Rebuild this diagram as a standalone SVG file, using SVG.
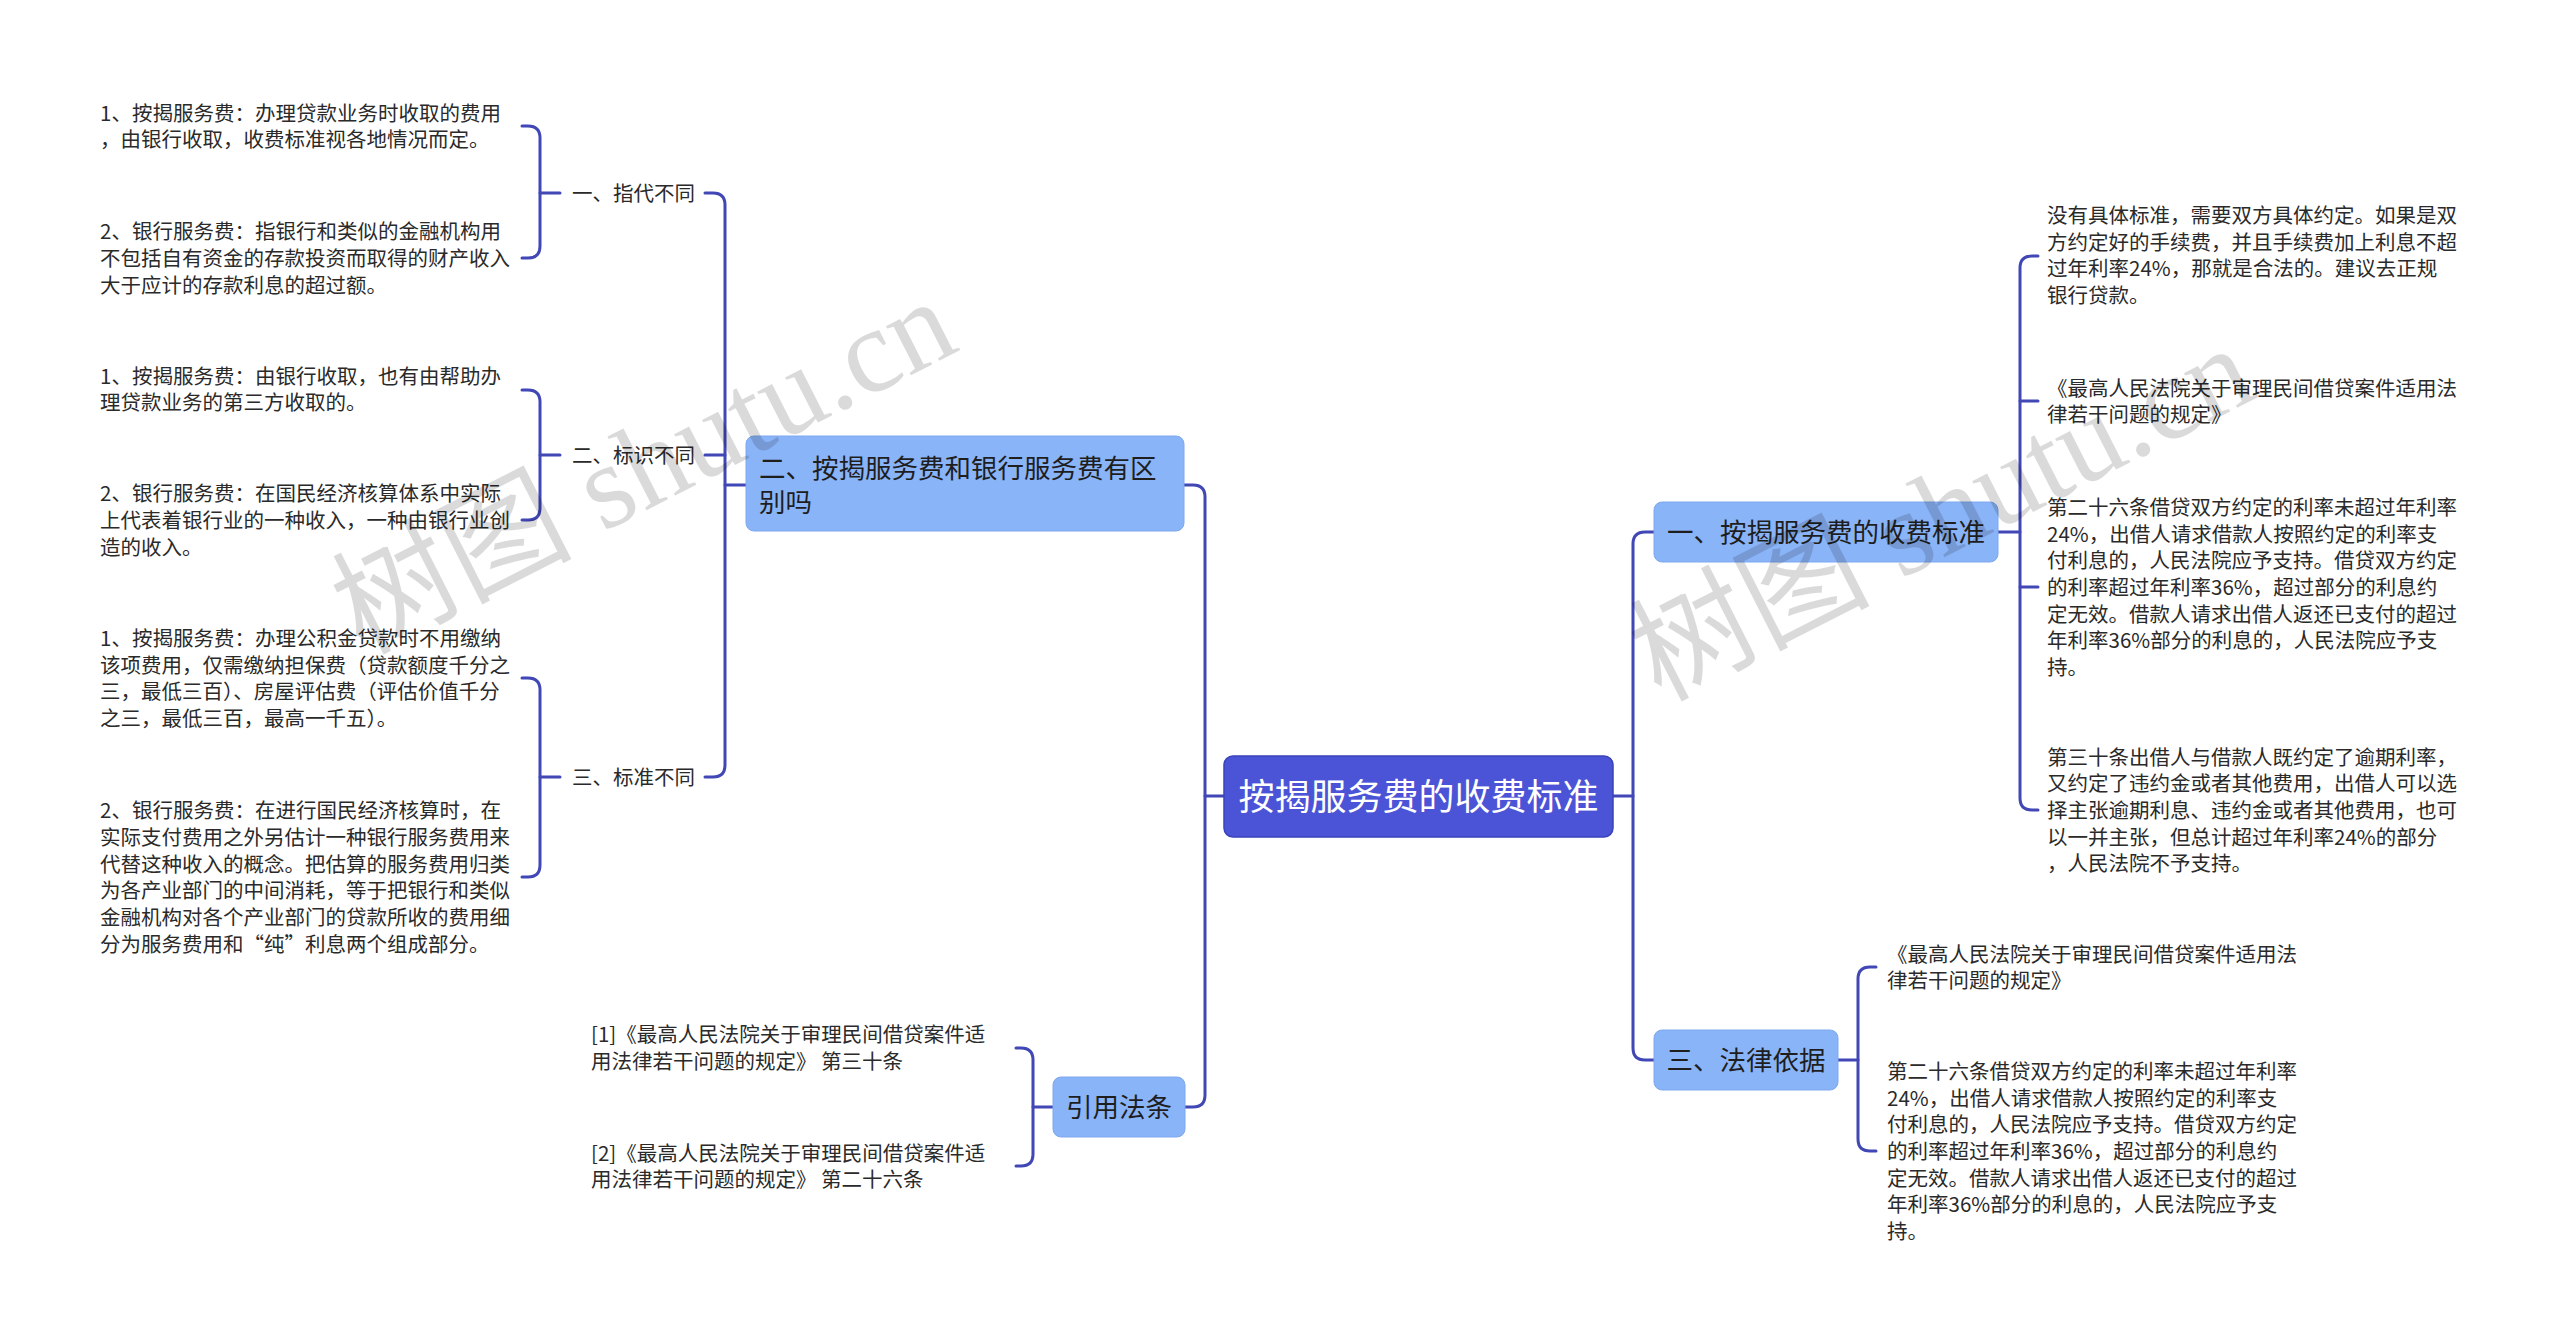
<svg xmlns="http://www.w3.org/2000/svg" width="2560" height="1344" viewBox="0 0 2560 1344">
<style>
.t{font-family:"Noto Sans CJK SC","Noto Sans",sans-serif;font-size:20.5px;fill:#2a2a2a}
.n{font-family:"Noto Sans CJK SC","Noto Sans",sans-serif;font-size:26.5px;fill:#1e1e1e}
.c{font-family:"Noto Sans CJK SC","Noto Sans",sans-serif;font-size:36px;fill:#ffffff}
.box{fill:#8ab4f8;stroke:#7ea8ef;stroke-width:1}
.root{fill:#4b54d6;stroke:#3a43b9;stroke-width:1.5}
.conn path{fill:none;stroke:#4147b5;stroke-width:3;stroke-linecap:round}
.wm{font-family:"Liberation Serif","Noto Sans CJK SC",serif;font-size:120px;fill:#000;opacity:0.14}
</style>
<rect width="2560" height="1344" fill="#ffffff"/>
<g id="connectors" class="conn">
<path d="M1224,796 H1205"/>
<path d="M1184,485 H1193 Q1205,485 1205,497 V1095 Q1205,1107 1193,1107 H1185"/>
<path d="M746,485 H725"/>
<path d="M705,193 H713 Q725,193 725,205 V765 Q725,777 713,777 H705"/>
<path d="M705,455 H725"/>
<path d="M522,126 H528 Q540,126 540,138 V246 Q540,258 528,258 H522"/>
<path d="M540,193 H560"/>
<path d="M522,390 H528 Q540,390 540,402 V508 Q540,520 528,520 H522"/>
<path d="M540,455 H560"/>
<path d="M522,678 H528 Q540,678 540,690 V865 Q540,877 528,877 H522"/>
<path d="M540,777 H560"/>
<path d="M1016,1048 H1021 Q1033,1048 1033,1060 V1154 Q1033,1166 1021,1166 H1016"/>
<path d="M1033,1107 H1053"/>
<path d="M1613,796 H1633"/>
<path d="M1654,532 H1645 Q1633,532 1633,544 V1048 Q1633,1060 1645,1060 H1654"/>
<path d="M1998,532 H2020"/>
<path d="M2038,256 H2032 Q2020,256 2020,268 V798 Q2020,810 2032,810 H2038"/>
<path d="M2020,401 H2038"/>
<path d="M2020,587 H2038"/>
<path d="M1838,1060 H1858"/>
<path d="M1876,967 H1870 Q1858,967 1858,979 V1139 Q1858,1151 1870,1151 H1876"/>
</g>
<g id="root">
<rect class="root" x="1224" y="756" width="389" height="81" rx="9"/>
<text class="c" x="1418.5" y="809.5" text-anchor="middle">按揭服务费的收费标准</text>
</g>
<g id="n-diff">
<rect class="box" x="746" y="436" width="438" height="95" rx="8"/>
<text class="n"><tspan x="759" y="478">二、按揭服务费和银行服务费有区</tspan><tspan x="759" y="512">别吗</tspan></text>
</g>
<g id="n-law-cite">
<rect class="box" x="1053" y="1077" width="132" height="60" rx="8"/>
<text class="n" x="1119" y="1117" text-anchor="middle">引用法条</text>
</g>
<g id="n-standard">
<rect class="box" x="1654" y="502" width="344" height="60" rx="8"/>
<text class="n" x="1826" y="542" text-anchor="middle">一、按揭服务费的收费标准</text>
</g>
<g id="n-basis">
<rect class="box" x="1654" y="1030" width="184" height="60" rx="8"/>
<text class="n" x="1746" y="1070" text-anchor="middle">三、法律依据</text>
</g>
<g id="lbl-1"><text class="t" x="572" y="201">一、指代不同</text></g>
<g id="lbl-2"><text class="t" x="572" y="463">二、标识不同</text></g>
<g id="lbl-3"><text class="t" x="572" y="785">三、标准不同</text></g>
<g id="leaf-1-1"><text class="t"><tspan x="100" y="120.5">1、按揭服务费：办理贷款业务时收取的费用</tspan><tspan x="100" y="147.2">，由银行收取，收费标准视各地情况而定。</tspan></text></g>
<g id="leaf-1-2"><text class="t"><tspan x="100" y="239.1">2、银行服务费：指银行和类似的金融机构用</tspan><tspan x="100" y="265.8">不包括自有资金的存款投资而取得的财产收入</tspan><tspan x="100" y="292.5">大于应计的存款利息的超过额。</tspan></text></g>
<g id="leaf-2-1"><text class="t"><tspan x="100" y="383.5">1、按揭服务费：由银行收取，也有由帮助办</tspan><tspan x="100" y="410.2">理贷款业务的第三方收取的。</tspan></text></g>
<g id="leaf-2-2"><text class="t"><tspan x="100" y="501.1">2、银行服务费：在国民经济核算体系中实际</tspan><tspan x="100" y="527.8">上代表着银行业的一种收入，一种由银行业创</tspan><tspan x="100" y="554.5">造的收入。</tspan></text></g>
<g id="leaf-3-1"><text class="t"><tspan x="100" y="645.8">1、按揭服务费：办理公积金贷款时不用缴纳</tspan><tspan x="100" y="672.5">该项费用，仅需缴纳担保费（贷款额度千分之</tspan><tspan x="100" y="699.1">三，最低三百）、房屋评估费（评估价值千分</tspan><tspan x="100" y="725.8">之三，最低三百，最高一千五）。</tspan></text></g>
<g id="leaf-3-2"><text class="t"><tspan x="100" y="818.1">2、银行服务费：在进行国民经济核算时，在</tspan><tspan x="100" y="844.8">实际支付费用之外另估计一种银行服务费用来</tspan><tspan x="100" y="871.5">代替这种收入的概念。把估算的服务费用归类</tspan><tspan x="100" y="898.1">为各产业部门的中间消耗，等于把银行和类似</tspan><tspan x="100" y="924.8">金融机构对各个产业部门的贷款所收的费用细</tspan><tspan x="100" y="951.5">分为服务费用和“纯”利息两个组成部分。</tspan></text></g>
<g id="cite-1"><text class="t"><tspan x="591" y="1042">[1]《最高人民法院关于审理民间借贷案件适</tspan><tspan x="591" y="1068.7">用法律若干问题的规定》 第三十条</tspan></text></g>
<g id="cite-2"><text class="t"><tspan x="591" y="1160.5">[2]《最高人民法院关于审理民间借贷案件适</tspan><tspan x="591" y="1187.2">用法律若干问题的规定》 第二十六条</tspan></text></g>
<g id="std-1"><text class="t"><tspan x="2047" y="222.8">没有具体标准，需要双方具体约定。如果是双</tspan><tspan x="2047" y="249.5">方约定好的手续费，并且手续费加上利息不超</tspan><tspan x="2047" y="276.1">过年利率24%，那就是合法的。建议去正规</tspan><tspan x="2047" y="302.8">银行贷款。</tspan></text></g>
<g id="std-2"><text class="t"><tspan x="2047" y="395.5">《最高人民法院关于审理民间借贷案件适用法</tspan><tspan x="2047" y="422.1">律若干问题的规定》</tspan></text></g>
<g id="std-3"><text class="t"><tspan x="2047" y="514.8">第二十六条借贷双方约定的利率未超过年利率</tspan><tspan x="2047" y="541.5">24%，出借人请求借款人按照约定的利率支</tspan><tspan x="2047" y="568.1">付利息的，人民法院应予支持。借贷双方约定</tspan><tspan x="2047" y="594.8">的利率超过年利率36%，超过部分的利息约</tspan><tspan x="2047" y="621.5">定无效。借款人请求出借人返还已支付的超过</tspan><tspan x="2047" y="648.1">年利率36%部分的利息的，人民法院应予支</tspan><tspan x="2047" y="674.8">持。</tspan></text></g>
<g id="std-4"><text class="t"><tspan x="2047" y="764.5">第三十条出借人与借款人既约定了逾期利率，</tspan><tspan x="2047" y="791.1">又约定了违约金或者其他费用，出借人可以选</tspan><tspan x="2047" y="817.8">择主张逾期利息、违约金或者其他费用，也可</tspan><tspan x="2047" y="844.5">以一并主张，但总计超过年利率24%的部分</tspan><tspan x="2047" y="871.1">，人民法院不予支持。</tspan></text></g>
<g id="basis-1"><text class="t"><tspan x="1887" y="961.5">《最高人民法院关于审理民间借贷案件适用法</tspan><tspan x="1887" y="988.1">律若干问题的规定》</tspan></text></g>
<g id="basis-2"><text class="t"><tspan x="1887" y="1078.8">第二十六条借贷双方约定的利率未超过年利率</tspan><tspan x="1887" y="1105.5">24%，出借人请求借款人按照约定的利率支</tspan><tspan x="1887" y="1132.1">付利息的，人民法院应予支持。借贷双方约定</tspan><tspan x="1887" y="1158.8">的利率超过年利率36%，超过部分的利息约</tspan><tspan x="1887" y="1185.5">定无效。借款人请求出借人返还已支付的超过</tspan><tspan x="1887" y="1212.1">年利率36%部分的利息的，人民法院应予支</tspan><tspan x="1887" y="1238.8">持。</tspan></text></g>
<g id="watermarks">
<text class="wm" transform="translate(362,655) rotate(-27)">树图 shutu.cn</text>
<text class="wm" transform="translate(1660,702) rotate(-27)">树图 shutu.cn</text>
</g>
</svg>
